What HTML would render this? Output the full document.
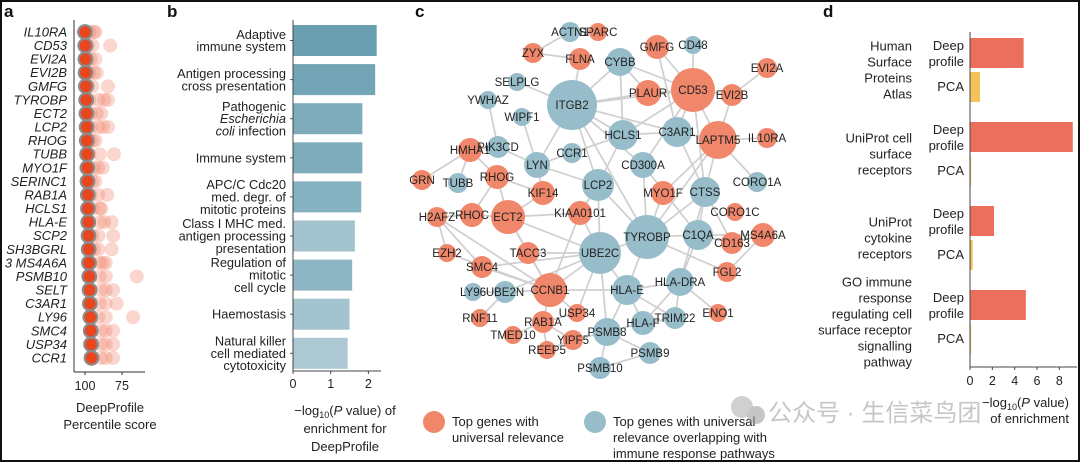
<!DOCTYPE html>
<html><head><meta charset="utf-8"><style>
html,body{margin:0;padding:0;background:#fff}
svg{display:block;font-family:"Liberation Sans","Noto Sans CJK SC",sans-serif}
</style></head><body>
<svg id="fig" width="1080" height="462" viewBox="0 0 1080 462">
<rect x="1" y="1" width="1078" height="460" fill="#fff" stroke="#111" stroke-width="2"/>
<g font-weight="bold" font-size="17" fill="#111">
<text x="4" y="17">a</text>
<text x="167" y="17">b</text>
<text x="415" y="17">c</text>
<text x="823" y="17">d</text>
</g>
<g id="pa"></g>
<g id="pb"></g>
<g id="pc"></g>
<g id="pd"></g>
<g opacity="0.55">
<circle cx="742" cy="407" r="11" fill="#aaa"/><circle cx="756" cy="415" r="9" fill="#999"/>
<text x="768" y="421" font-size="24" fill="#999">公众号 · 生信菜鸟团</text>
</g>
</svg>
<script>
const NS="http://www.w3.org/2000/svg";
function mk(p,tag,at,txt){const e=document.createElementNS(NS,tag);for(const k in at)e.setAttribute(k,at[k]);if(txt!==undefined)e.textContent=txt;p.appendChild(e);return e;}

/* ---------- Panel a data ---------- */
const aGenes=["IL10RA","CD53","EVI2A","EVI2B","GMFG","TYROBP","ECT2","LCP2","RHOG","TUBB","MYO1F","SERINC1","RAB1A","HCLS1","HLA-E","SCP2","SH3BGRL","3 MS4A6A","PSMB10","SELT","C3AR1","LY96","SMC4","USP34","CCR1"];
const aMain=[100,99.8,99.7,99.6,99.4,99.2,99,98.9,98.8,98.6,98.4,98.3,98.1,98,97.8,97.6,97.5,97.3,97.1,96.9,96.7,96.4,96.1,95.9,95.6];
const aExtra=[[93,94,97],[95,83,98],[93,96,98],[92,94,97],[95,84.5,98],[91,84.5,87,97],[92,89,96],[91,84.5,88,96],[93,95,97],[90,80.4,97],[91,88,94],[93,95,98],[91,85,96],[90,89,95],[90,87,82],[91,81,95],[91,82,94],[90,86,88],[90,86,65],[89,81,86],[90,78.6,86],[91,86,67.5],[89,81,86],[89,81,86],[89,81,86]];
const aTicks=[100,75];
(function(){
  const g=document.getElementById('pa');
  const X=p=>85+(100-p)*1.48, Y=i=>32+i*13.58;
  aGenes.forEach((n,i)=>{
    const t=mk(g,'text',{x:67,y:Y(i)+4.5,'text-anchor':'end','font-size':13,'font-style':'italic',fill:'#222'},n);
    
    
    aExtra[i].forEach(v=>{
      const c=mk(g,'circle',{cx:X(v),cy:Y(i),r:7,fill:'#f08a72','fill-opacity':0.35});
      
      
    });
    const m=mk(g,'circle',{cx:X(aMain[i]),cy:Y(i),r:6.8,fill:'#e8461f',stroke:'#8c8c8c','stroke-width':2.2});
    
    
  });
  mk(g,'line',{x1:74,y1:20,x2:74,y2:372,stroke:'#333','stroke-width':1});
  mk(g,'line',{x1:74,y1:372,x2:145,y2:372,stroke:'#333','stroke-width':1});
  aTicks.forEach(v=>{mk(g,'line',{x1:X(v),y1:372,x2:X(v),y2:375,stroke:'#333'});
    const t=mk(g,'text',{x:X(v),y:390,'text-anchor':'middle','font-size':12.5,fill:'#222'},v);
    });
  const t1=mk(g,'text',{x:110,y:412,'text-anchor':'middle','font-size':13,fill:'#222'},'DeepProfile');
  
  mk(g,'text',{x:110,y:429,'text-anchor':'middle','font-size':13,fill:'#222'},'Percentile score');
})();

/* ---------- Panel b data ---------- */
const bCats=[["Adaptive","immune system"],["Antigen processing","cross presentation"],["Pathogenic","Escherichia","coli infection"],["Immune system"],["APC/C Cdc20","med. degr. of","mitotic proteins"],["Class I MHC med.","antigen processing","presentation"],["Regulation of","mitotic","cell cycle"],["Haemostasis"],["Natural killer","cell mediated","cytotoxicity"]];
const bVals=[2.22,2.18,1.84,1.84,1.81,1.64,1.57,1.5,1.45];
const bColors=["#6a9fb1","#73a5b6","#7eacbc","#7eacbc","#86b1c0","#a3c3cf","#8fb6c4","#a3c3cf","#abc8d3"];
const bTicks=[0,1,2];
(function(){
  const g=document.getElementById('pb');
  const X=v=>293+v*37.7, Y=i=>25+i*39.1;
  bVals.forEach((v,i)=>{
    const r=mk(g,'rect',{x:X(0),y:Y(i),width:X(v)-X(0),height:31,fill:bColors[i]});
    
    
    const L=bCats[i], cy=Y(i)+15.5, st=cy-(L.length-1)*6.2;
    L.forEach((s,k)=>{
      const t=mk(g,'text',{x:286,y:st+k*12.4+4.5,'text-anchor':'end','font-size':12.8,fill:'#222'});
      if(s==="Escherichia"){t.setAttribute('font-style','italic');t.textContent=s;}
      else if(s==="coli infection"){mk(t,'tspan',{'font-style':'italic'},'coli');mk(t,'tspan',{},' infection');}
      else t.textContent=s;
      
      
    });
    mk(g,'line',{x1:290,y1:cy,x2:293,y2:cy,stroke:'#555'});
  });
  mk(g,'line',{x1:293,y1:20,x2:293,y2:371,stroke:'#444'});
  mk(g,'line',{x1:293,y1:371,x2:381,y2:371,stroke:'#444'});
  bTicks.forEach(v=>{mk(g,'line',{x1:X(v),y1:371,x2:X(v),y2:374,stroke:'#444'});
    const t=mk(g,'text',{x:X(v),y:388,'text-anchor':'middle','font-size':12.5,fill:'#222'},v);
    });
  const tt=mk(g,'text',{x:345,y:415,'text-anchor':'middle','font-size':13,fill:'#222'});
  
  mk(tt,'tspan',{},'−log');mk(tt,'tspan',{'font-size':9,dy:3},'10');mk(tt,'tspan',{dy:-3},'(');mk(tt,'tspan',{'font-style':'italic'},'P');mk(tt,'tspan',{},' value) of');
  mk(g,'text',{x:345,y:433,'text-anchor':'middle','font-size':13,fill:'#222'},'enrichment for');
  mk(g,'text',{x:345,y:451,'text-anchor':'middle','font-size':13,fill:'#222'},'DeepProfile');
})();

/* ---------- Panel c (network) ---------- */
const nodes=[["ACTN1",570,32,10,"b"],["SPARC",598,32,9,"o"],["ZYX",533,53,10,"o"],["FLNA",580,59,11,"o"],["CYBB",620,62,14,"b"],["GMFG",657,47,12,"o"],["CD48",693,45,9,"b"],["EVI2A",767,68,10,"o"],["SELPLG",517,82,9,"b"],["ITGB2",572,105,25,"b"],["PLAUR",648,93,13,"o"],["CD53",693,90,22,"o"],["EVI2B",732,95,11,"o"],["YWHAZ",488,100,9,"b"],["WIPF1",522,117,9,"b"],["HCLS1",623,135,15,"b"],["C3AR1",677,132,15,"b"],["LAPTM5",718,140,19,"o"],["IL10RA",767,138,10,"o"],["HMHA1",470,150,12,"o"],["PIK3CD",498,147,11,"b"],["CCR1",572,153,10,"b"],["LYN",537,165,13,"b"],["CD300A",643,165,13,"b"],["GRN",422,180,10,"o"],["TUBB",458,183,10,"b"],["RHOG",497,177,12,"o"],["LCP2",598,185,16,"b"],["MYO1F",663,193,12,"o"],["CTSS",705,192,15,"b"],["CORO1A",757,182,10,"b"],["CORO1C",735,212,9,"o"],["KIF14",543,193,12,"o"],["H2AFZ",437,217,10,"o"],["RHOC",472,215,12,"o"],["ECT2",508,217,17,"o"],["KIAA0101",580,213,12,"o"],["TYROBP",647,237,22,"b"],["C1QA",698,235,15,"b"],["CD163",732,243,11,"o"],["MS4A6A",763,235,12,"o"],["EZH2",447,253,9,"o"],["TACC3",528,253,11,"o"],["UBE2C",600,253,21,"b"],["SMC4",482,267,11,"o"],["FGL2",727,272,10,"o"],["HLA-DRA",680,282,14,"b"],["LY96",473,292,9,"b"],["UBE2N",505,292,11,"b"],["CCNB1",550,290,17,"o"],["HLA-E",627,290,15,"b"],["ENO1",718,313,9,"o"],["RNF11",480,318,9,"o"],["USP34",577,313,9,"o"],["RAB1A",543,322,11,"o"],["HLA-F",643,323,12,"b"],["TRIM22",675,318,11,"b"],["TMED10",513,335,9,"o"],["PSMB8",607,332,14,"b"],["YIPF5",573,340,10,"o"],["REEP5",547,350,9,"o"],["PSMB9",650,353,11,"b"],["PSMB10",600,368,11,"b"]];
const edges="ACTN1-SPARC ACTN1-ZYX ZYX-FLNA FLNA-ITGB2 SELPLG-ITGB2 CYBB-ITGB2 CYBB-PLAUR CYBB-CD53 CYBB-HCLS1 GMFG-CD53 GMFG-C3AR1 CD48-CD53 EVI2A-EVI2B CD53-EVI2B CD53-PLAUR CD53-LAPTM5 CD53-C3AR1 CD53-HCLS1 CD53-ITGB2 CD53-CD300A CD53-CTSS EVI2B-LAPTM5 ITGB2-PLAUR ITGB2-HCLS1 ITGB2-LYN ITGB2-LCP2 ITGB2-C3AR1 ITGB2-TYROBP ITGB2-CD300A YWHAZ-PIK3CD WIPF1-LYN HCLS1-C3AR1 HCLS1-LCP2 HCLS1-LYN HCLS1-CCR1 C3AR1-LAPTM5 C3AR1-CTSS LAPTM5-IL10RA LAPTM5-CTSS LAPTM5-TYROBP LAPTM5-CORO1A LAPTM5-MYO1F HMHA1-PIK3CD HMHA1-GRN HMHA1-TUBB HMHA1-RHOG PIK3CD-LYN LYN-CCR1 LYN-LCP2 LYN-KIF14 RHOG-RHOC RHOG-KIF14 RHOG-ECT2 LCP2-TYROBP LCP2-UBE2C LCP2-KIAA0101 CD300A-TYROBP CD300A-C1QA MYO1F-TYROBP CTSS-TYROBP CTSS-C1QA CTSS-CD163 CTSS-HLA-DRA H2AFZ-RHOC H2AFZ-EZH2 H2AFZ-SMC4 H2AFZ-CCNB1 RHOC-ECT2 ECT2-KIF14 ECT2-KIAA0101 ECT2-UBE2C ECT2-CCNB1 ECT2-TACC3 KIAA0101-UBE2C KIAA0101-CCNB1 TYROBP-C1QA TYROBP-UBE2C TYROBP-HLA-E TYROBP-FGL2 C1QA-CD163 C1QA-MS4A6A CD163-MS4A6A MS4A6A-FGL2 C1QA-HLA-DRA EZH2-CCNB1 TACC3-UBE2C TACC3-CCNB1 SMC4-CCNB1 SMC4-UBE2C UBE2C-CCNB1 UBE2C-HLA-E UBE2C-PSMB8 UBE2C-USP34 UBE2C-UBE2N UBE2N-CCNB1 UBE2N-LY96 HLA-E-HLA-DRA HLA-E-HLA-F HLA-E-PSMB8 HLA-E-TRIM22 HLA-DRA-TRIM22 HLA-DRA-ENO1 HLA-DRA-HLA-F HLA-F-TRIM22 HLA-F-PSMB8 PSMB8-PSMB9 PSMB8-PSMB10 PSMB9-PSMB10 PSMB8-YIPF5 RAB1A-YIPF5 RAB1A-TMED10 RAB1A-REEP5 RAB1A-USP34 RAB1A-CCNB1 YIPF5-REEP5 CCNB1-USP34 RNF11-UBE2N CCNB1-HLA-E".split(" ");
(function(){
  const g=document.getElementById('pc');
  const M={};nodes.forEach(n=>M[n[0]]=n);
  edges.forEach(e=>{
    const i=e.indexOf('-',e.startsWith('HLA-')?4:0);
    const a=M[e.slice(0,i)],b=M[e.slice(i+1)];
    if(!a||!b)return;
    const l=mk(g,'line',{x1:a[1],y1:a[2],x2:b[1],y2:b[2],stroke:'#cfcfcf','stroke-width':1.7});
    
    
  });
  nodes.forEach(n=>{
    const c=mk(g,'circle',{cx:n[1],cy:n[2],r:n[3],fill:n[4]==='o'?'#f0876b':'#97bdca'});
    
    
  });
  nodes.forEach(n=>{
    const t=mk(g,'text',{x:n[1],y:n[2]+4,'text-anchor':'middle','font-size':11.5,fill:'#222'},n[0]);
    
    
  });
  const l1=mk(g,'circle',{cx:434,cy:422,r:11,fill:'#f0876b'});
  
  mk(g,'text',{x:452,y:426,'font-size':13,fill:'#222'},'Top genes with');
  mk(g,'text',{x:452,y:442,'font-size':13,fill:'#222'},'universal relevance');
  const l2=mk(g,'circle',{cx:595,cy:422,r:11,fill:'#97bdca'});
  
  mk(g,'text',{x:613,y:426,'font-size':13,fill:'#222'},'Top genes with universal');
  mk(g,'text',{x:613,y:442,'font-size':13,fill:'#222'},'relevance overlapping with');
  mk(g,'text',{x:613,y:458,'font-size':13,fill:'#222'},'immune response pathways');
})();

/* ---------- Panel d data ---------- */
const dGroups=[["Human","Surface","Proteins","Atlas"],["UniProt cell","surface","receptors"],["UniProt","cytokine","receptors"],["GO immune","response","regulating cell","surface receptor","signalling","pathway"]];
const dDeep=[4.8,9.2,2.15,5.0];
const dPCA=[0.9,0.1,0.25,0.1];
const dTicks=[0,2,4,6,8];
(function(){
  const g=document.getElementById('pd');
  const X=v=>970+v*11.17, Y=i=>38+i*84;
  dGroups.forEach((L,i)=>{
    const y=Y(i);
    const r1=mk(g,'rect',{x:X(0),y:y,width:X(dDeep[i])-X(0),height:30,fill:'#ec6f5e'});
    
    const r2=mk(g,'rect',{x:X(0),y:y+34,width:X(dPCA[i])-X(0),height:30,fill:'#f5c35a'});
    
    mk(g,'text',{x:964,y:y+12,'text-anchor':'end','font-size':13,fill:'#222'},'Deep');
    mk(g,'text',{x:964,y:y+28,'text-anchor':'end','font-size':13,fill:'#222'},'profile');
    mk(g,'text',{x:964,y:y+53,'text-anchor':'end','font-size':13,fill:'#222'},'PCA');
    const cy=y+32, st=cy-(L.length-1)*8;
    L.forEach((s,k)=>{
      const t=mk(g,'text',{x:912,y:st+k*16+4.5,'text-anchor':'end','font-size':13,fill:'#222'},s);
      
    });
  });
  mk(g,'line',{x1:970,y1:32,x2:970,y2:367,stroke:'#444'});
  mk(g,'line',{x1:970,y1:367,x2:1077,y2:367,stroke:'#444'});
  dTicks.forEach(v=>{mk(g,'line',{x1:X(v),y1:367,x2:X(v),y2:370,stroke:'#444'});
    const t=mk(g,'text',{x:X(v),y:385,'text-anchor':'middle','font-size':12.5,fill:'#222'},v);
    });
  const tt=mk(g,'text',{x:1069,y:407,'text-anchor':'end','font-size':13,fill:'#222'});
  
  mk(tt,'tspan',{},'−log');mk(tt,'tspan',{'font-size':9,dy:3},'10');mk(tt,'tspan',{dy:-3},'(');mk(tt,'tspan',{'font-style':'italic'},'P');mk(tt,'tspan',{},' value)');
  mk(g,'text',{x:1069,y:423,'text-anchor':'end','font-size':13,fill:'#222'},'of enrichment');
})();
</script>
</body></html>
